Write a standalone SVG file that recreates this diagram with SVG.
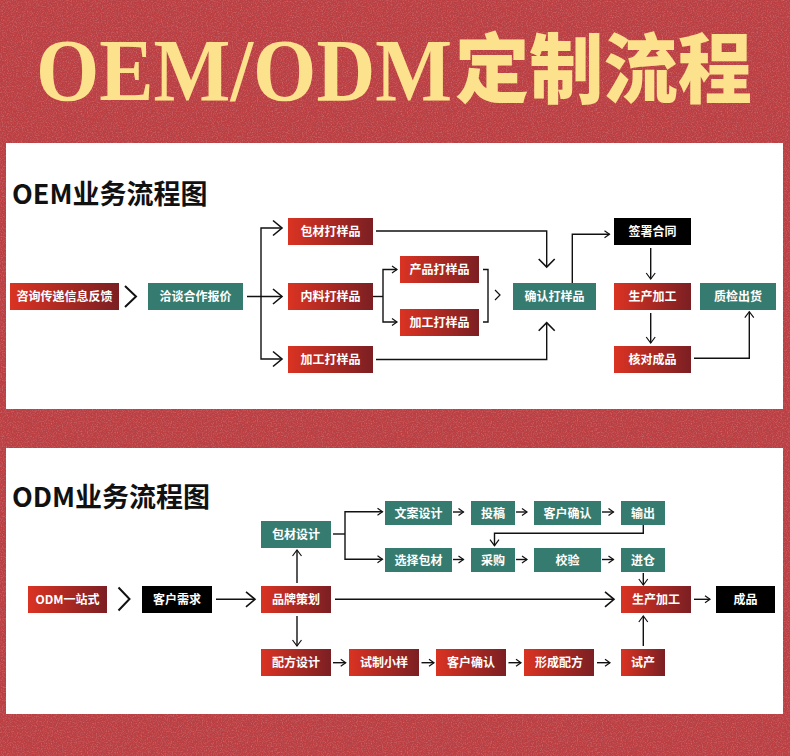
<svg xmlns="http://www.w3.org/2000/svg" width="790" height="756" viewBox="0 0 790 756">
<defs>
<style>
.t{font-family:"Noto Sans CJK SC","Noto Sans",sans-serif;font-size:12px;font-weight:700;fill:#fff;text-anchor:middle}
.h{font-family:"Noto Sans CJK SC","Noto Sans",sans-serif;font-size:27px;font-weight:700;fill:#111}
.red{fill:url(#rg)}
.teal{fill:#367b6f}
.blk{fill:#000}
.ln{fill:none;stroke:#111;stroke-width:1.4}
.bg{fill:none;stroke:#111;stroke-width:2}
.mk{fill:none;stroke:#111;stroke-width:1.2}
.mk2{fill:none;stroke:#111;stroke-width:1.6}
</style>
<linearGradient id="rg" x1="0" y1="0" x2="1" y2="0">
<stop offset="0" stop-color="#da3322"/>
<stop offset="1" stop-color="#7b1f23"/>
</linearGradient>
<filter id="noise" x="0" y="0" width="100%" height="100%">
<feTurbulence type="fractalNoise" baseFrequency="0.85" numOctaves="2" seed="4"/>
<feColorMatrix type="matrix" values="0 0 0 0 0.4  0 0 0 0 0.08  0 0 0 0 0.1  2.2 0 0 0 -0.85"/>
</filter>
<filter id="noise2" x="0" y="0" width="100%" height="100%">
<feTurbulence type="fractalNoise" baseFrequency="0.8" numOctaves="2" seed="9"/>
<feColorMatrix type="matrix" values="0 0 0 0 0.9  0 0 0 0 0.45  0 0 0 0 0.45  2.2 0 0 0 -1.0"/>
</filter>
<marker id="s" markerUnits="userSpaceOnUse" markerWidth="8" markerHeight="10" refX="5" refY="3.5" orient="auto" overflow="visible"><path class="mk" d="M0,0 L5,3.5 L0,7"/></marker>
<marker id="d" markerUnits="userSpaceOnUse" markerWidth="8" markerHeight="10" refX="6" refY="4.5" orient="auto" overflow="visible"><path class="mk" d="M0,0 L6,4.5 L0,9"/></marker>
<marker id="m" markerUnits="userSpaceOnUse" markerWidth="10" markerHeight="16" refX="9" refY="7.5" orient="auto" overflow="visible"><path class="mk2" d="M0,0 L9,7.5 L0,15"/></marker>
<marker id="b" markerUnits="userSpaceOnUse" markerWidth="10" markerHeight="18" refX="8" refY="8" orient="auto" overflow="visible"><path class="mk2" d="M0,0 L8,8 L0,16"/></marker>
</defs>

<rect x="0" y="0" width="790" height="756" fill="#bd3d40"/>
<rect x="0" y="0" width="790" height="756" filter="url(#noise)" opacity="0.55"/>
<rect x="0" y="0" width="790" height="756" filter="url(#noise2)" opacity="0.35"/>

<g id="title">
<text x="36" y="100" font-family="'Liberation Serif',serif" font-weight="700" font-size="88" fill="#fde28e" textLength="416" lengthAdjust="spacingAndGlyphs">OEM/ODM</text>
<text x="455" y="97" font-family="'Noto Sans CJK SC',sans-serif" font-weight="900" font-size="76" fill="#fde28e" textLength="297" lengthAdjust="spacingAndGlyphs">定制流程</text>
</g>

<rect x="6" y="143" width="777" height="266" fill="#fff"/>
<rect x="6" y="448" width="777" height="266" fill="#fff"/>

<text class="h" x="12" y="203.5">OEM业务流程图</text>
<text class="h" x="12" y="506.5">ODM业务流程图</text>

<g id="oem-connectors">
<polyline class="bg" points="125,286 136,296.5 125,307"/>
<path class="ln" d="M247,296.5 H282" marker-end="url(#m)"/>
<path class="ln" d="M261,296.5 V228 H282" marker-end="url(#m)"/>
<path class="ln" d="M261,296.5 V359 H282" marker-end="url(#m)"/>
<path class="ln" d="M376,231 H546.7 V267" marker-end="url(#b)"/>
<path class="ln" d="M376,359.5 H546.7 V322.7" marker-end="url(#b)"/>
<path class="ln" d="M373,296.5 H383"/>
<path class="ln" d="M383,296 V269.5 H397" marker-end="url(#s)"/>
<path class="ln" d="M383,296 V322 H397" marker-end="url(#s)"/>
<path class="ln" d="M483,269.5 H488 V322 H483"/>
<polyline class="mk" points="495,290 500,295 495,300"/>
<path class="ln" d="M572.3,283 V234.3 H609.5" marker-end="url(#s)"/>
<path class="ln" d="M650.7,248 V279" marker-end="url(#d)"/>
<path class="ln" d="M650.7,313 V343" marker-end="url(#d)"/>
<path class="ln" d="M694,358.3 H749.3 V311.7" marker-end="url(#d)"/>
</g>

<g id="oem-n1"><rect class="red" x="10" y="283" width="109" height="27"/><text class="t" x="64.5" y="301">咨询传递信息反馈</text></g>
<g id="oem-n2"><rect class="teal" x="148" y="283" width="95" height="27"/><text class="t" x="195.5" y="301">洽谈合作报价</text></g>
<g id="oem-n3"><rect class="red" x="288" y="218" width="85" height="27"/><text class="t" x="330.5" y="236">包材打样品</text></g>
<g id="oem-n4"><rect class="red" x="288" y="283" width="85" height="27"/><text class="t" x="330.5" y="301">内料打样品</text></g>
<g id="oem-n5"><rect class="red" x="288" y="346" width="85" height="27"/><text class="t" x="330.5" y="364">加工打样品</text></g>
<g id="oem-n6"><rect class="red" x="400" y="256" width="79" height="27"/><text class="t" x="439.5" y="274">产品打样品</text></g>
<g id="oem-n7"><rect class="red" x="400" y="309" width="79" height="27"/><text class="t" x="439.5" y="327">加工打样品</text></g>
<g id="oem-n8"><rect class="teal" x="513" y="283" width="83" height="27"/><text class="t" x="554.5" y="301">确认打样品</text></g>
<g id="oem-n9"><rect class="blk" x="614" y="218" width="77" height="27"/><text class="t" x="652.5" y="236">签署合同</text></g>
<g id="oem-n10"><rect class="red" x="614" y="283" width="77" height="27"/><text class="t" x="652.5" y="301">生产加工</text></g>
<g id="oem-n11"><rect class="teal" x="700" y="283" width="76" height="27"/><text class="t" x="738" y="301">质检出货</text></g>
<g id="oem-n12"><rect class="red" x="614" y="346" width="77" height="27"/><text class="t" x="652.5" y="364">核对成品</text></g>

<g id="odm-connectors">
<polyline class="bg" points="118.5,587.5 129.5,599 118.5,610.5"/>
<path class="ln" d="M216,599.3 H255" marker-end="url(#m)"/>
<path class="ln" d="M297,583 V550" marker-end="url(#d)"/>
<path class="ln" d="M297,616 V646" marker-end="url(#d)"/>
<path class="ln" d="M333,534 H345"/>
<path class="ln" d="M345,534 V511.7 H382.5" marker-end="url(#s)"/>
<path class="ln" d="M345,534 V559.3 H382.5" marker-end="url(#s)"/>
<path class="ln" d="M333,662.7 H345.7" marker-end="url(#s)"/>
<path class="ln" d="M453,512 H463.5" marker-end="url(#s)"/>
<path class="ln" d="M516,512 H527" marker-end="url(#s)"/>
<path class="ln" d="M602,512 H613.5" marker-end="url(#s)"/>
<path class="ln" d="M453,559.5 H463.5" marker-end="url(#s)"/>
<path class="ln" d="M516,559.5 H527" marker-end="url(#s)"/>
<path class="ln" d="M602,559.5 H613.5" marker-end="url(#s)"/>
<path class="ln" d="M643.3,525 V533.3 H494.5 V545.7" marker-end="url(#d)"/>
<path class="ln" d="M643.3,573 V585" marker-end="url(#d)"/>
<path class="ln" d="M335,599.3 H614" marker-end="url(#m)"/>
<path class="ln" d="M694,599.3 H710" marker-end="url(#s)"/>
<path class="ln" d="M643.3,646 V616" marker-end="url(#d)"/>
<path class="ln" d="M421.5,662.7 H434" marker-end="url(#s)"/>
<path class="ln" d="M508.5,662.7 H521" marker-end="url(#s)"/>
<path class="ln" d="M597,662.7 H610" marker-end="url(#s)"/>
</g>

<g id="odm-m1"><rect class="red" x="28" y="586" width="79" height="27"/><text class="t" x="67.5" y="604">ODM一站式</text></g>
<g id="odm-m2"><rect class="blk" x="142" y="586" width="70" height="27"/><text class="t" x="177" y="604">客户需求</text></g>
<g id="odm-m3"><rect class="red" x="261" y="586" width="70" height="27"/><text class="t" x="296" y="604">品牌策划</text></g>
<g id="odm-m4"><rect class="teal" x="261" y="521" width="70" height="27"/><text class="t" x="296" y="539">包材设计</text></g>
<g id="odm-m5"><rect class="red" x="261" y="649" width="70" height="27"/><text class="t" x="296" y="667">配方设计</text></g>
<g id="odm-m6"><rect class="teal" x="385" y="501" width="67" height="24"/><text class="t" x="418.5" y="517.5">文案设计</text></g>
<g id="odm-m7"><rect class="teal" x="471" y="501" width="44" height="24"/><text class="t" x="493" y="517.5">投稿</text></g>
<g id="odm-m8"><rect class="teal" x="534" y="501" width="67" height="24"/><text class="t" x="567.5" y="517.5">客户确认</text></g>
<g id="odm-m9"><rect class="teal" x="621" y="501" width="44" height="24"/><text class="t" x="643" y="517.5">输出</text></g>
<g id="odm-m10"><rect class="teal" x="385" y="548" width="67" height="24"/><text class="t" x="418.5" y="564.5">选择包材</text></g>
<g id="odm-m11"><rect class="teal" x="471" y="548" width="44" height="24"/><text class="t" x="493" y="564.5">采购</text></g>
<g id="odm-m12"><rect class="teal" x="534" y="548" width="67" height="24"/><text class="t" x="567.5" y="564.5">校验</text></g>
<g id="odm-m13"><rect class="teal" x="621" y="548" width="44" height="24"/><text class="t" x="643" y="564.5">进仓</text></g>
<g id="odm-m14"><rect class="red" x="621" y="586" width="70" height="27"/><text class="t" x="656" y="604">生产加工</text></g>
<g id="odm-m15"><rect class="blk" x="716" y="586" width="59" height="27"/><text class="t" x="745.5" y="604">成品</text></g>
<g id="odm-m16"><rect class="red" x="349" y="649" width="70" height="27"/><text class="t" x="384" y="667">试制小样</text></g>
<g id="odm-m17"><rect class="red" x="436" y="649" width="70" height="27"/><text class="t" x="471" y="667">客户确认</text></g>
<g id="odm-m18"><rect class="red" x="524" y="649" width="70" height="27"/><text class="t" x="559" y="667">形成配方</text></g>
<g id="odm-m19"><rect class="red" x="621" y="649" width="44" height="27"/><text class="t" x="643" y="667">试产</text></g>
</svg>
